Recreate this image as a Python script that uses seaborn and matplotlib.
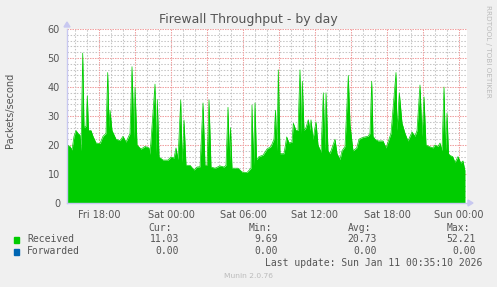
import numpy as np
import pandas as pd
import matplotlib
matplotlib.use("Agg")
import matplotlib.pyplot as plt
from matplotlib.ticker import MultipleLocator
import seaborn as sns

# ---------------- data ----------------
# time in hours relative to Sat 00:00
hours = [-8.667, -8.417, -8.25, -8.083, -7.917, -7.75, -7.583, -7.5, -7.358, -7.25,
         -7.083, -6.975, -6.875, -6.667, -6.5, -6.25, -5.917, -5.667, -5.417, -5.275,
         -5.167, -5.083, -4.917, -4.583, -4.25, -4.0, -3.75, -3.417, -3.25, -3.083,
         -3.0, -2.833, -2.5, -2.167, -1.833, -1.75, -1.333, -1.25, -1.142, -1.0,
         -0.667, -0.25, 0.0, 0.25, 0.417, 0.583, 0.808, 0.917, 1.083, 1.25,
         1.583, 1.917, 2.167, 2.417, 2.667, 2.833, 3.0, 3.167, 3.333, 3.667,
         4.083, 4.417, 4.583, 4.75, 4.875, 4.958, 5.083, 5.583, 5.917, 6.333,
         6.667, 6.75, 6.875, 7.0, 7.125, 7.333, 7.667, 8.0, 8.333, 8.583,
         8.708, 8.833, 8.942, 9.083, 9.417, 9.642, 9.833, 10.083, 10.192, 10.417,
         10.583, 10.75, 10.833, 10.942, 11.083, 11.25, 11.442, 11.583, 11.667, 11.833,
         12.083, 12.25, 12.5, 12.692, 12.833, 12.917, 13.083, 13.25, 13.667, 13.833,
         14.083, 14.25, 14.5, 14.775, 14.917, 15.167, 15.475, 15.667, 15.917, 16.167,
         16.417, 16.583, 16.725, 16.833, 17.0, 17.25, 17.667, 17.917, 18.333, 18.75,
         18.833, 19.025, 19.25, 19.5, 19.75, 20.083, 20.333, 20.5, 20.75, 20.917,
         21.083, 21.25, 21.5, 21.833, 22.0, 22.25, 22.417, 22.583, 22.75, 22.875,
         23.0, 23.125, 23.25, 23.475, 23.667, 23.917, 24.142, 24.333, 24.5]
received = [20.0, 19.5, 18.3, 23.0, 25.0, 24.0, 23.4, 18.0, 51.7, 26.0,
            26.5, 37.0, 25.0, 25.0, 23.0, 20.7, 20.5, 23.0, 24.0, 45.0,
            26.0, 32.0, 25.0, 22.0, 21.5, 23.0, 21.0, 24.0, 47.0, 22.0,
            40.0, 20.0, 18.6, 19.5, 19.0, 16.8, 41.0, 17.0, 35.7, 15.9,
            14.8, 14.8, 15.9, 15.5, 19.0, 15.0, 35.5, 14.0, 28.6, 13.0,
            13.0, 11.4, 12.4, 12.5, 34.5, 13.0, 13.0, 35.5, 12.4, 12.0,
            12.8, 12.4, 13.0, 33.0, 14.0, 26.0, 12.0, 12.0, 10.7, 10.5,
            12.0, 33.8, 13.0, 34.5, 15.0, 16.0, 16.5, 18.6, 19.5, 22.0,
            32.0, 18.0, 45.9, 17.0, 17.0, 22.8, 20.7, 21.0, 27.5, 25.0,
            25.0, 45.9, 24.0, 42.0, 25.0, 26.0, 28.7, 25.0, 28.7, 22.0,
            28.0, 20.0, 17.5, 38.0, 18.0, 38.0, 18.0, 17.0, 22.0, 17.0,
            15.0, 18.0, 19.5, 44.0, 27.0, 18.0, 19.0, 22.0, 22.5, 22.8,
            23.0, 24.0, 42.0, 23.0, 22.0, 21.4, 21.4, 19.0, 24.0, 45.0,
            25.0, 38.0, 27.6, 24.0, 21.4, 24.5, 23.0, 25.0, 40.7, 23.0,
            36.6, 20.0, 19.5, 19.0, 20.0, 19.5, 20.7, 18.0, 40.0, 18.0,
            31.0, 17.0, 16.4, 16.0, 14.0, 16.0, 13.8, 14.5, 11.0]

tick_hours = [-6, 0, 6, 12, 18, 24]
tick_labels = ["Fri 18:00", "Sat 00:00", "Sat 06:00", "Sat 12:00", "Sat 18:00", "Sun 00:00"]
y_ticks = [0, 10, 20, 30, 40, 50, 60]

series_names = ["Received", "Forwarded"]
series_colors = ["#00CC00", "#0066B3"]
cur_vals = ["11.03", "0.00"]
min_vals = ["9.69", "0.00"]
avg_vals = ["20.73", "0.00"]
max_vals = ["52.21", "0.00"]

title = "Firewall Throughput - by day"
ylabel = "Packets/second"
last_update = "Last update: Sun Jan 11 00:35:10 2026"
footer = "Munin 2.0.76"
side_text = "RRDTOOL / TOBI OETIKER"

# ---------------- figure ----------------
sns.set_style("white")
plt.rcParams['font.family'] = ['DejaVu Sans']

W, H = 497, 287
BG = "#F0F0F0"
TXT = "#555555"
fig = plt.figure(figsize=(W / 100, H / 100), dpi=100, facecolor=BG)

def fx(x):
    return x / W

def fy(y):
    return 1 - y / H

ax = fig.add_axes([fx(67), fy(203), 400 / W, 174 / H])
ax.set_facecolor("white")

df = pd.DataFrame({"hours": hours, "received": received})
ax.fill_between(df["hours"], 0, df["received"], color="#00CC00",
                linewidth=0, zorder=3)
sns.lineplot(data=df, x="hours", y="received", ax=ax, color="#00CC00",
             linewidth=0.5, zorder=3)

x0, x1 = -8.667, 24.667
ax.set_xlim(x0, x1)
ax.set_ylim(0, 60)

# grid
GRAY = "#C4C4C4"
RED = "#F0A0A0"
for v in np.arange(2, 60, 2):
    if v % 10:
        ax.axhline(v, color=GRAY, lw=0.75, ls=(0, (1.4, 1.6)), zorder=1)
for v in np.arange(10, 61, 10):
    ax.axhline(v, color=RED, lw=0.75, ls=(0, (1.4, 1.0)), zorder=1)
for h in np.arange(-8, 25, 1):
    if h % 3:
        ax.axvline(h, color=GRAY, lw=0.75, ls=(0, (1.4, 1.6)), zorder=1)
for h in np.arange(-6, 25, 3):
    ax.axvline(h, color=RED, lw=0.75, ls=(0, (1.4, 1.0)), zorder=1)

ax.set_xticks(tick_hours)
ax.set_xticklabels(tick_labels)
ax.set_yticks(y_ticks)
ax.xaxis.set_minor_locator(MultipleLocator(1))
ax.yaxis.set_minor_locator(MultipleLocator(2))
ax.tick_params(axis="both", which="major", labelsize=7, length=2, width=0.7, pad=3,
               colors="#F08080", labelcolor=TXT)
ax.tick_params(axis="both", which="minor", length=2, width=0.7, colors="#C8C8C8")
ax.set_xlabel("")
ax.set_ylabel(ylabel, fontsize=7, color=TXT)
ax.yaxis.set_label_coords(-0.13, 0.534)

for s in ["top", "right"]:
    ax.spines[s].set_visible(False)
for s in ["left", "bottom"]:
    ax.spines[s].set_color("#C8C8F0")
    ax.spines[s].set_linewidth(1.0)
    ax.spines[s].set_zorder(4)

# axis arrows
fig.patches.append(plt.Polygon([[fx(468), fy(200)], [fx(468), fy(206)], [fx(473), fy(203)]],
                               closed=True, color="#C8C8F0", transform=fig.transFigure))
fig.patches.append(plt.Polygon([[fx(64), fy(27)], [fx(70), fy(27)], [fx(67), fy(22)]],
                               closed=True, color="#C8C8F0", transform=fig.transFigure))

fig.text(fx(248.5), fy(19), title, fontsize=9, color=TXT, ha="center", va="center")
fig.text(fx(488), fy(5), side_text, fontsize=5.2, color="#BBBBBB", rotation=270,
         ha="center", va="top")

# legend table
mono = "DejaVu Sans Mono"
fs = 7
fig.text(fx(172), fy(228), "Cur:", fontfamily=mono, fontsize=fs, color=TXT, ha="right", va="center")
fig.text(fx(272), fy(228), "Min:", fontfamily=mono, fontsize=fs, color=TXT, ha="right", va="center")
fig.text(fx(371), fy(228), "Avg:", fontfamily=mono, fontsize=fs, color=TXT, ha="right", va="center")
fig.text(fx(470), fy(228), "Max:", fontfamily=mono, fontsize=fs, color=TXT, ha="right", va="center")
rows_y = [239.5, 251.5]
for i, name in enumerate(series_names):
    yy = rows_y[i]
    fig.patches.append(plt.Rectangle((fx(14), fy(yy + 3)), 5 / W, 6 / H,
                                     color=series_colors[i], transform=fig.transFigure))
    fig.text(fx(27), fy(yy), name, fontfamily=mono, fontsize=fs, color=TXT, ha="left", va="center")
    fig.text(fx(179), fy(yy), cur_vals[i], fontfamily=mono, fontsize=fs, color=TXT, ha="right", va="center")
    fig.text(fx(278), fy(yy), min_vals[i], fontfamily=mono, fontsize=fs, color=TXT, ha="right", va="center")
    fig.text(fx(377), fy(yy), avg_vals[i], fontfamily=mono, fontsize=fs, color=TXT, ha="right", va="center")
    fig.text(fx(476), fy(yy), max_vals[i], fontfamily=mono, fontsize=fs, color=TXT, ha="right", va="center")
fig.text(fx(482), fy(263.5), last_update, fontfamily=mono, fontsize=fs, color=TXT, ha="right", va="center")
fig.text(fx(248), fy(276.5), footer, fontsize=5.4, color="#BBBBBB", ha="center", va="center")

fig.savefig("out.png", dpi=100, facecolor=BG)
